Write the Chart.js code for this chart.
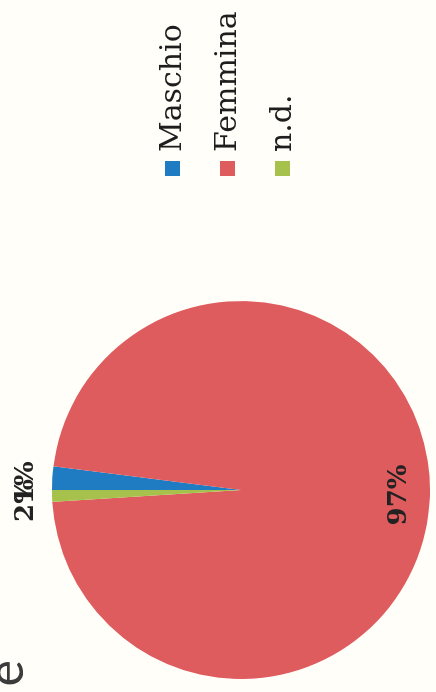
<!DOCTYPE html>
<html>
<head>
<meta charset="utf-8">
<script src="https://cdn.jsdelivr.net/npm/chart.js@4"></script>
<style>
  html, body { margin: 0; padding: 0; background: #fffef8; overflow: hidden; }
  body { width: 436px; height: 692px; position: relative; }
  #wrap {
    position: absolute; left: 0; top: 0;
    width: 692px; height: 436px;
    transform-origin: 0 0;
    transform: translateY(692px) rotate(-90deg);
  }
</style>
</head>
<body>
<div id="wrap"><canvas id="c" width="692" height="436"></canvas></div>
<script>
const categories = ['Maschio', 'Femmina', 'n.d.'];
const values = [2, 97, 1];
const valueLabels = ['2%', '97%', '1%'];
const titleFragment = 'e';

const sliceColors = ['#1f7bc2', '#de5b5e', '#a6c24c'];

const labelPlugin = {
  id: 'sliceLabels',
  afterDatasetsDraw(chart, args, opts) {
    const ctx = chart.ctx;
    const meta = chart.getDatasetMeta(0);
    ctx.save();
    ctx.font = 'bold 26px "DejaVu Serif"';
    ctx.fillStyle = '#222';
    ctx.textAlign = 'center';
    ctx.textBaseline = 'middle';
    meta.data.forEach((arc, i) => {
      const p = arc.getProps(['x', 'y', 'startAngle', 'endAngle', 'outerRadius'], true);
      const mid = (p.startAngle + p.endAngle) / 2;
      const small = values[i] < 5;
      const r = small ? p.outerRadius + 26 : p.outerRadius * 0.84;
      const dx = (opts.dx && opts.dx[i]) || 0;
      ctx.fillText(valueLabels[i], p.x + Math.cos(mid) * r + dx, p.y + Math.sin(mid) * r);
    });
    ctx.restore();
  }
};

const legendPlugin = {
  id: 'sideLegend',
  afterDraw(chart, args, opts) {
    const ctx = chart.ctx;
    ctx.save();
    ctx.font = '30px "DejaVu Serif"';
    ctx.textBaseline = 'middle';
    ctx.textAlign = 'left';
    categories.forEach((name, i) => {
      const y = opts.top + i * opts.step;
      ctx.fillStyle = sliceColors[i];
      ctx.fillRect(opts.left, y - 7, 15, 15);
      ctx.fillStyle = '#1e1e1e';
      ctx.fillText(name, opts.left + 24, y + 1);
    });
    // visible tail of the (cropped) title
    ctx.font = '50px Lato';
    ctx.fillStyle = '#3c3c3c';
    ctx.textAlign = 'right';
    ctx.textBaseline = 'alphabetic';
    ctx.fillText(titleFragment, 32, 23);
    ctx.restore();
  }
};

new Chart(document.getElementById('c'), {
  type: 'pie',
  data: {
    labels: categories,
    datasets: [{
      data: values,
      backgroundColor: sliceColors,
      borderWidth: 0
    }]
  },
  options: {
    responsive: false,
    animation: false,
    layout: { padding: { left: 13, right: 301, top: 52, bottom: 6 } },
    plugins: {
      legend: { display: false },
      tooltip: { enabled: false },
      sliceLabels: { dx: [-24, 0, 14] },
      sideLegend: { left: 516, top: 172, step: 55 }
    }
  },
  plugins: [labelPlugin, legendPlugin]
});
</script>
</body>
</html>
